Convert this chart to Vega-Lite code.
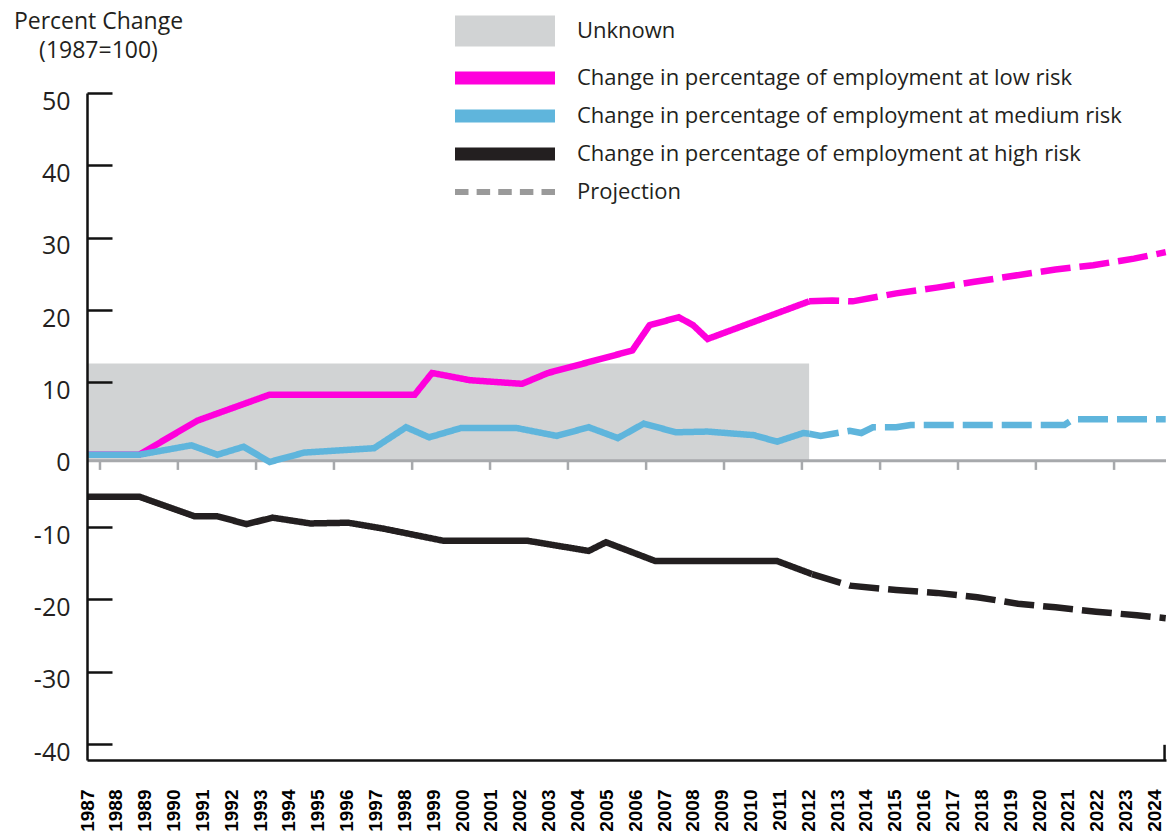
{
  "$schema": "https://vega.github.io/schema/vega-lite/v6.json",
  "width": 1079,
  "height": 667,
  "autosize": "none",
  "padding": {"left": 87, "top": 93, "right": 3, "bottom": 79},
  "background": "white",
  "config": {"view": {"stroke": null}, "axis": {"labelOverlap": false}, "axisX": {"labelOverlap": false}},
  "datasets": {
    "unknown": [{"series": "Unknown", "start": 1987, "end": 2012.03, "low": -0.85, "high": 12.6}],
    "zeroTicks": [
      {"pos": 1987.45}, {"pos": 1990.15}, {"pos": 1992.86}, {"pos": 1995.56}, {"pos": 1998.27},
      {"pos": 2000.97}, {"pos": 2003.67}, {"pos": 2006.38}, {"pos": 2009.08}, {"pos": 2011.78},
      {"pos": 2014.49}, {"pos": 2017.19}, {"pos": 2019.89}, {"pos": 2022.6}
    ],
    "lines": [
      {"series": "Change in percentage of employment at low risk", "phase": "Observed", "year": 1987, "value": 0},
      {"series": "Change in percentage of employment at low risk", "phase": "Observed", "year": 1988.81, "value": 0},
      {"series": "Change in percentage of employment at low risk", "phase": "Observed", "year": 1990.82, "value": 4.7},
      {"series": "Change in percentage of employment at low risk", "phase": "Observed", "year": 1993.33, "value": 8.3},
      {"series": "Change in percentage of employment at low risk", "phase": "Observed", "year": 1998.36, "value": 8.3},
      {"series": "Change in percentage of employment at low risk", "phase": "Observed", "year": 1998.96, "value": 11.3},
      {"series": "Change in percentage of employment at low risk", "phase": "Observed", "year": 2000.27, "value": 10.3},
      {"series": "Change in percentage of employment at low risk", "phase": "Observed", "year": 2002.08, "value": 9.8},
      {"series": "Change in percentage of employment at low risk", "phase": "Observed", "year": 2002.98, "value": 11.3},
      {"series": "Change in percentage of employment at low risk", "phase": "Observed", "year": 2005.9, "value": 14.4},
      {"series": "Change in percentage of employment at low risk", "phase": "Observed", "year": 2006.5, "value": 17.9},
      {"series": "Change in percentage of employment at low risk", "phase": "Observed", "year": 2007.51, "value": 19.0},
      {"series": "Change in percentage of employment at low risk", "phase": "Observed", "year": 2008.01, "value": 17.9},
      {"series": "Change in percentage of employment at low risk", "phase": "Observed", "year": 2008.51, "value": 16.0},
      {"series": "Change in percentage of employment at low risk", "phase": "Observed", "year": 2012.03, "value": 21.2},
      {"series": "Change in percentage of employment at low risk", "phase": "Projected", "year": 2012.03, "value": 21.2},
      {"series": "Change in percentage of employment at low risk", "phase": "Projected", "year": 2012.83, "value": 21.3},
      {"series": "Change in percentage of employment at low risk", "phase": "Projected", "year": 2013.54, "value": 21.2},
      {"series": "Change in percentage of employment at low risk", "phase": "Projected", "year": 2015.05, "value": 22.3},
      {"series": "Change in percentage of employment at low risk", "phase": "Projected", "year": 2016.45, "value": 23.1},
      {"series": "Change in percentage of employment at low risk", "phase": "Projected", "year": 2017.76, "value": 23.9},
      {"series": "Change in percentage of employment at low risk", "phase": "Projected", "year": 2019.07, "value": 24.7},
      {"series": "Change in percentage of employment at low risk", "phase": "Projected", "year": 2020.57, "value": 25.6},
      {"series": "Change in percentage of employment at low risk", "phase": "Projected", "year": 2021.88, "value": 26.2},
      {"series": "Change in percentage of employment at low risk", "phase": "Projected", "year": 2023.29, "value": 27.1},
      {"series": "Change in percentage of employment at low risk", "phase": "Projected", "year": 2024.39, "value": 28.0},

      {"series": "Change in percentage of employment at medium risk", "phase": "Observed", "year": 1987, "value": 0},
      {"series": "Change in percentage of employment at medium risk", "phase": "Observed", "year": 1988.81, "value": 0},
      {"series": "Change in percentage of employment at medium risk", "phase": "Observed", "year": 1990.62, "value": 1.3},
      {"series": "Change in percentage of employment at medium risk", "phase": "Observed", "year": 1991.52, "value": 0},
      {"series": "Change in percentage of employment at medium risk", "phase": "Observed", "year": 1992.43, "value": 1.1},
      {"series": "Change in percentage of employment at medium risk", "phase": "Observed", "year": 1993.33, "value": -1.0},
      {"series": "Change in percentage of employment at medium risk", "phase": "Observed", "year": 1994.54, "value": 0.3},
      {"series": "Change in percentage of employment at medium risk", "phase": "Observed", "year": 1996.95, "value": 0.9},
      {"series": "Change in percentage of employment at medium risk", "phase": "Observed", "year": 1998.06, "value": 3.8},
      {"series": "Change in percentage of employment at medium risk", "phase": "Observed", "year": 1998.86, "value": 2.4},
      {"series": "Change in percentage of employment at medium risk", "phase": "Observed", "year": 1999.97, "value": 3.7},
      {"series": "Change in percentage of employment at medium risk", "phase": "Observed", "year": 2001.88, "value": 3.7},
      {"series": "Change in percentage of employment at medium risk", "phase": "Observed", "year": 2003.28, "value": 2.6},
      {"series": "Change in percentage of employment at medium risk", "phase": "Observed", "year": 2004.39, "value": 3.8},
      {"series": "Change in percentage of employment at medium risk", "phase": "Observed", "year": 2005.4, "value": 2.3},
      {"series": "Change in percentage of employment at medium risk", "phase": "Observed", "year": 2006.3, "value": 4.3},
      {"series": "Change in percentage of employment at medium risk", "phase": "Observed", "year": 2007.41, "value": 3.1},
      {"series": "Change in percentage of employment at medium risk", "phase": "Observed", "year": 2008.51, "value": 3.2},
      {"series": "Change in percentage of employment at medium risk", "phase": "Observed", "year": 2010.12, "value": 2.7},
      {"series": "Change in percentage of employment at medium risk", "phase": "Observed", "year": 2010.92, "value": 1.8},
      {"series": "Change in percentage of employment at medium risk", "phase": "Observed", "year": 2011.83, "value": 3.0},
      {"series": "Change in percentage of employment at medium risk", "phase": "Observed", "year": 2012.03, "value": 2.9},
      {"series": "Change in percentage of employment at medium risk", "phase": "Projected", "year": 2012.03, "value": 2.9},
      {"series": "Change in percentage of employment at medium risk", "phase": "Projected", "year": 2012.43, "value": 2.6},
      {"series": "Change in percentage of employment at medium risk", "phase": "Projected", "year": 2013.44, "value": 3.3},
      {"series": "Change in percentage of employment at medium risk", "phase": "Projected", "year": 2013.84, "value": 3.0},
      {"series": "Change in percentage of employment at medium risk", "phase": "Projected", "year": 2014.24, "value": 3.8},
      {"series": "Change in percentage of employment at medium risk", "phase": "Projected", "year": 2015.05, "value": 3.8},
      {"series": "Change in percentage of employment at medium risk", "phase": "Projected", "year": 2015.55, "value": 4.1},
      {"series": "Change in percentage of employment at medium risk", "phase": "Projected", "year": 2020.88, "value": 4.1},
      {"series": "Change in percentage of employment at medium risk", "phase": "Projected", "year": 2021.18, "value": 4.9},
      {"series": "Change in percentage of employment at medium risk", "phase": "Projected", "year": 2024.39, "value": 4.9},

      {"series": "Change in percentage of employment at high risk", "phase": "Observed", "year": 1987, "value": -5.8},
      {"series": "Change in percentage of employment at high risk", "phase": "Observed", "year": 1988.81, "value": -5.8},
      {"series": "Change in percentage of employment at high risk", "phase": "Observed", "year": 1990.72, "value": -8.5},
      {"series": "Change in percentage of employment at high risk", "phase": "Observed", "year": 1991.52, "value": -8.5},
      {"series": "Change in percentage of employment at high risk", "phase": "Observed", "year": 1992.53, "value": -9.6},
      {"series": "Change in percentage of employment at high risk", "phase": "Observed", "year": 1993.43, "value": -8.7},
      {"series": "Change in percentage of employment at high risk", "phase": "Observed", "year": 1994.74, "value": -9.5},
      {"series": "Change in percentage of employment at high risk", "phase": "Observed", "year": 1996.05, "value": -9.4},
      {"series": "Change in percentage of employment at high risk", "phase": "Observed", "year": 1997.25, "value": -10.2},
      {"series": "Change in percentage of employment at high risk", "phase": "Observed", "year": 1999.36, "value": -11.9},
      {"series": "Change in percentage of employment at high risk", "phase": "Observed", "year": 2002.28, "value": -11.9},
      {"series": "Change in percentage of employment at high risk", "phase": "Observed", "year": 2004.39, "value": -13.3},
      {"series": "Change in percentage of employment at high risk", "phase": "Observed", "year": 2004.99, "value": -12.1},
      {"series": "Change in percentage of employment at high risk", "phase": "Observed", "year": 2006.7, "value": -14.7},
      {"series": "Change in percentage of employment at high risk", "phase": "Observed", "year": 2010.92, "value": -14.7},
      {"series": "Change in percentage of employment at high risk", "phase": "Observed", "year": 2012.13, "value": -16.5},
      {"series": "Change in percentage of employment at high risk", "phase": "Projected", "year": 2012.13, "value": -16.5},
      {"series": "Change in percentage of employment at high risk", "phase": "Projected", "year": 2013.44, "value": -18.1},
      {"series": "Change in percentage of employment at high risk", "phase": "Projected", "year": 2015.05, "value": -18.7},
      {"series": "Change in percentage of employment at high risk", "phase": "Projected", "year": 2016.45, "value": -19.1},
      {"series": "Change in percentage of employment at high risk", "phase": "Projected", "year": 2017.86, "value": -19.7},
      {"series": "Change in percentage of employment at high risk", "phase": "Projected", "year": 2019.27, "value": -20.6},
      {"series": "Change in percentage of employment at high risk", "phase": "Projected", "year": 2020.57, "value": -21.1},
      {"series": "Change in percentage of employment at high risk", "phase": "Projected", "year": 2021.98, "value": -21.7},
      {"series": "Change in percentage of employment at high risk", "phase": "Projected", "year": 2023.39, "value": -22.2},
      {"series": "Change in percentage of employment at high risk", "phase": "Projected", "year": 2024.39, "value": -22.6}
    ]
  },
  "layer": [
    {
      "data": {"name": "unknown"},
      "mark": {"type": "rect"},
      "encoding": {
        "x": {"field": "start", "type": "quantitative", "scale": {"domain": [1987, 2024.4], "nice": false, "zero": false}},
        "x2": {"field": "end"},
        "y": {"field": "low", "type": "quantitative", "scale": {"domain": [-42.2, 50], "nice": false, "zero": false}},
        "y2": {"field": "high"},
        "color": {
          "field": "series", "type": "nominal",
          "scale": {
            "domain": ["Unknown", "Change in percentage of employment at low risk", "Change in percentage of employment at medium risk", "Change in percentage of employment at high risk", "Projection"],
            "range": ["#d1d3d4", "#ff00dc", "#5fb5dc", "#231f20", "#9a9a9a"]
          },
          "legend": {
            "title": null, "orient": "none", "legendX": 368, "legendY": -73, "direction": "vertical",
            "padding": 0, "symbolType": "square", "symbolSize": 400, "symbolStrokeWidth": 0,
            "symbolOffset": 39,
            "labelFont": "Open Sans", "labelFontSize": 22, "labelColor": "#231f20", "labelLimit": 0,
            "labelOffset": 61, "rowPadding": 16,
            "encode": {
              "symbols": {
                "update": {
                  "shape": {"signal": "datum.index === 0 ? 'M-5,-1.55H5V1.55H-5Z M0,2Z' : (datum.index === 4 ? 'M-5,-0.3H-3.65V0.3H-5Z M-2.8375,-0.3H-1.4875V0.3H-2.8375Z M-0.675,-0.3H0.675V0.3H-0.675Z M1.4875,-0.3H2.8375V0.3H1.4875Z M3.65,-0.3H5V0.3H3.65Z' : 'M-5,-0.65H5V0.65H-5Z')"},
                  "fill": {"signal": "scale('color', datum.value)"},
                  "stroke": {"value": "transparent"},
                  "strokeWidth": {"value": 0},
                  "opacity": {"value": 1},
                  "fillOpacity": {"value": 1}
                }
              }
            }
          }
        }
      }
    },
    {
      "data": {"name": "unknown"},
      "mark": {"type": "rule", "color": "#a7a9ac", "strokeWidth": 3},
      "encoding": {
        "y": {"datum": -0.85, "type": "quantitative", "scale": {"domain": [-42.2, 50], "nice": false, "zero": false}}
      }
    },
    {
      "data": {"name": "zeroTicks"},
      "mark": {"type": "rule", "color": "#a7a9ac", "strokeWidth": 2.5},
      "encoding": {
        "x": {"field": "pos", "type": "quantitative", "scale": {"domain": [1987, 2024.4], "nice": false, "zero": false}},
        "y": {"datum": -0.85, "type": "quantitative", "scale": {"domain": [-42.2, 50], "nice": false, "zero": false}},
        "y2": {"datum": -2.1}
      }
    },
    {
      "data": {"name": "lines"},
      "mark": {"type": "line", "strokeWidth": 6.5, "strokeCap": "butt"},
      "encoding": {
        "x": {
          "field": "year", "type": "quantitative",
          "scale": {"domain": [1987, 2024.4], "nice": false, "zero": false},
          "axis": {
            "title": null, "orient": "bottom", "grid": false,
            "values": [1987,1988,1989,1990,1991,1992,1993,1994,1995,1996,1997,1998,1999,2000,2001,2002,2003,2004,2005,2006,2007,2008,2009,2010,2011,2012,2013,2014,2015,2016,2017,2018,2019,2020,2021,2022,2023,2024],
            "tickCount": 60,
            "format": "d", "ticks": false,
            "domainColor": "#111111", "domainWidth": 2.5,
            "labelAngle": 270, "labelAlign": "right", "labelBaseline": "middle",
            "labelFont": "Liberation Sans", "labelFontWeight": "bold", "labelFontSize": 19, "labelColor": "#000000",
            "labelPadding": 29, "labelOverlap": false, "labelFlush": false, "labelSeparation": 0
          }
        },
        "y": {
          "field": "value", "type": "quantitative",
          "scale": {"domain": [-42.2, 50], "nice": false, "zero": false},
          "axis": {
            "orient": "left", "grid": false, "zindex": 1,
            "values": [-40, -30, -20, -10, 0, 10, 20, 30, 40, 50],
            "tickCount": 20,
            "labelExpr": "toString(datum.value)",
            "domainColor": "#111111", "domainWidth": 2.5,
            "tickColor": "#111111", "tickWidth": 2.5, "tickSize": -25,
            "tickOpacity": {"condition": {"test": "datum.value === 0", "value": 0}, "value": 1},
            "labelPadding": 42, "labelFont": "Open Sans", "labelFontSize": 25, "labelColor": "#231f20",
            "labelBaseline": "middle", "labelOffset": 8, "labelAlign": "right",
            "title": ["Percent Change", "(1987=100)"],
            "titleAngle": 0, "titleAlign": "center", "titleBaseline": "alphabetic",
            "titleX": 11, "titleY": -65, "titleLineHeight": 29,
            "titleFont": "Open Sans", "titleFontSize": 23, "titleFontWeight": "normal", "titleColor": "#231f20"
          }
        },
        "color": {"field": "series", "type": "nominal", "legend": null},
        "strokeDash": {
          "field": "phase", "type": "nominal",
          "scale": {"domain": ["Observed", "Projected"], "range": [[1, 0], [30, 9]]},
          "legend": null
        }
      }
    },
    {
      "data": {"name": "unknown"},
      "mark": {"type": "rule", "color": "#111111", "strokeWidth": 2.5},
      "encoding": {
        "x": {"datum": 2024.35, "type": "quantitative", "scale": {"domain": [1987, 2024.4], "nice": false, "zero": false}},
        "y": {"datum": -42.2, "type": "quantitative", "scale": {"domain": [-42.2, 50], "nice": false, "zero": false}},
        "y2": {"datum": -40.1}
      }
    }
  ]
}
